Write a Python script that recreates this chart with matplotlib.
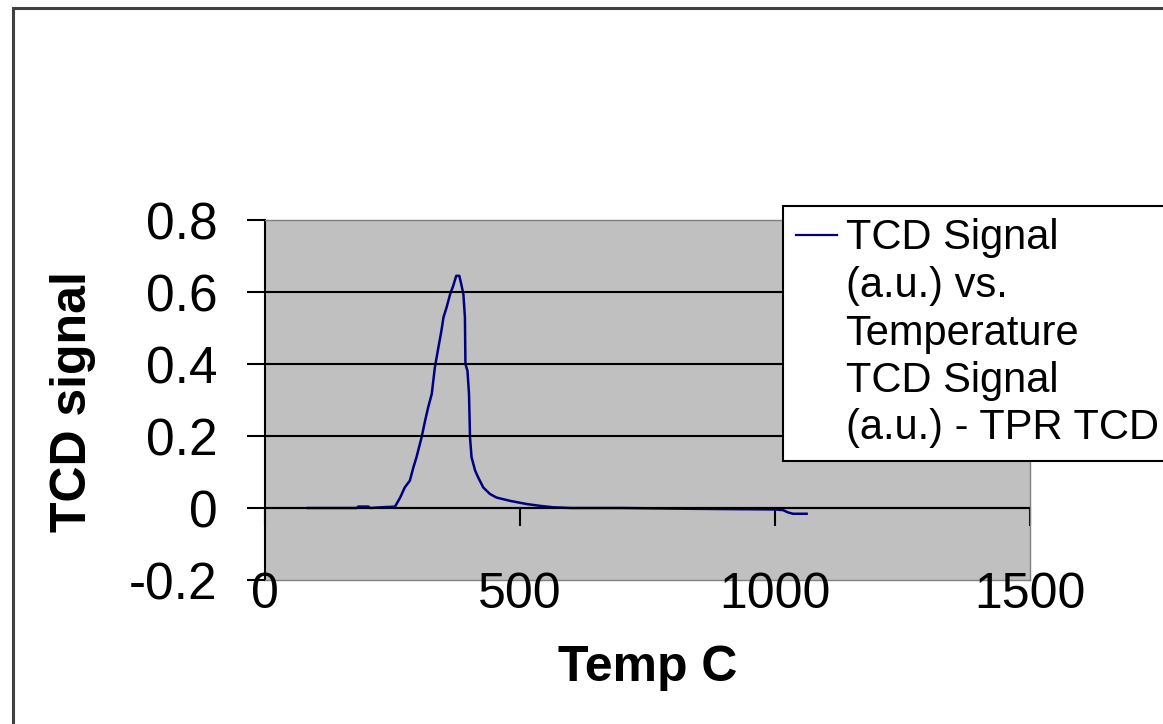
import matplotlib
matplotlib.use("Agg")
import matplotlib.pyplot as plt
from matplotlib.lines import Line2D
from matplotlib.patches import Rectangle

plt.rcParams['font.family'] = ['Liberation Sans', 'DejaVu Sans']

# ---- data ----
temp_c = [84, 180, 183, 203, 206, 240, 245, 255, 265, 274, 284, 291, 297, 307, 314,
          320, 327, 333, 340, 346, 350, 356, 363, 369, 375, 381, 384, 389, 392, 393,
          397, 400, 402, 405, 412, 418, 428, 441, 454, 480, 513, 539, 565, 600, 700,
          820, 900, 1000, 1016, 1025, 1035, 1062]
tcd_signal = [0, 0, 0.004, 0.004, 0, 0.003, 0.003, 0.004, 0.029, 0.057, 0.076, 0.113,
              0.141, 0.196, 0.243, 0.28, 0.317, 0.39, 0.446, 0.493, 0.53, 0.557, 0.594,
              0.617, 0.645, 0.645, 0.627, 0.594, 0.53, 0.40, 0.381, 0.317, 0.196, 0.141,
              0.104, 0.085, 0.057, 0.039, 0.029, 0.020, 0.011, 0.006, 0.002, 0, 0,
              -0.002, -0.003, -0.004, -0.006, -0.012, -0.016, -0.016]
x_ticks = [0, 500, 1000, 1500]
y_ticks = [-0.2, 0, 0.2, 0.4, 0.6, 0.8]
legend_lines = ["TCD Signal", "(a.u.) vs.", "Temperature", "TCD Signal", "(a.u.) - TPR TCD"]

W, H = 1163, 724
fig = plt.figure(figsize=(W / 100, H / 100), dpi=100)
fig.patch.set_facecolor('white')

# outer chart border (left & top visible)
fig.add_artist(Rectangle((12.5 / W, -0.2), 2, 1.2 - 7.5 / H, transform=fig.transFigure,
                         fill=False, edgecolor='#404040', lw=2.2))

ax = fig.add_axes([265 / W, 1 - 580 / H, 765 / W, 360 / H])
ax.set_facecolor('#C0C0C0')

ax.plot(temp_c, tcd_signal, color='#000080', lw=1.8, label=legend_lines[0])

ax.set_xlim(0, 1500)
ax.set_ylim(-0.2, 0.8)
ax.set_xticks(x_ticks)
ax.set_xticklabels([str(v) for v in x_ticks])
ax.set_yticks(y_ticks)
ax.set_yticklabels(['-0.2', '0', '0.2', '0.4', '0.6', '0.8'])

ax.tick_params(axis='y', direction='out', length=13, width=1.5, color='black',
               pad=21, labelsize=37)
ax.tick_params(axis='x', length=0, pad=-6, labelsize=36)

ax.yaxis.grid(True, color='black', lw=1.5)
gl = ax.get_ygridlines()
gl[0].set_visible(False)
gl[-1].set_visible(False)
ax.set_axisbelow(False)

for s in ['top', 'right', 'bottom']:
    ax.spines[s].set_color('#808080')
    ax.spines[s].set_linewidth(1.0)
ax.spines['left'].set_color('black')
ax.spines['left'].set_linewidth(1.5)

# x axis crossing at y = 0
sec = ax.secondary_xaxis(0.2)
sec.set_xticks(x_ticks)
sec.set_xticklabels([])
sec.tick_params(axis='x', direction='out', length=13, width=1.5, color='black')
sec.spines['bottom'].set_color('black')
sec.spines['bottom'].set_linewidth(1.5)

ax.set_xlabel('Temp C', fontsize=36, fontweight='bold')
ax.xaxis.set_label_coords(0.5, -0.245)
ax.xaxis.label.set_verticalalignment('center')
ax.set_ylabel('TCD signal', fontsize=36, fontweight='bold')
ax.yaxis.set_label_coords(-0.2505, 0.496)
ax.yaxis.label.set_verticalalignment('center')

handles = [Line2D([], [], color='#000080', lw=1.6)] + \
          [Line2D([], [], color='none')] * (len(legend_lines) - 1)
leg = fig.legend(handles, legend_lines, loc='upper left',
                 bbox_to_anchor=(783 / W, 1 - 206 / H), fontsize=30,
                 frameon=True, fancybox=False, edgecolor='black', framealpha=1,
                 handlelength=1.0, handletextpad=0.2, labelspacing=0.18,
                 borderpad=0.3, borderaxespad=0)
leg.get_frame().set_linewidth(1.5)

fig.savefig('out.png', dpi=100)
